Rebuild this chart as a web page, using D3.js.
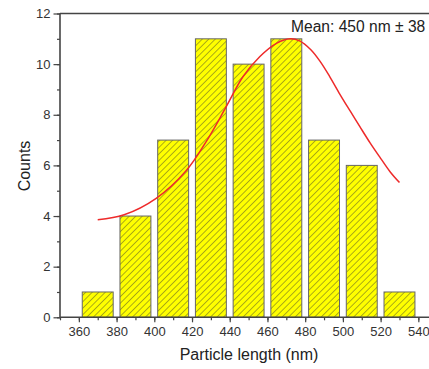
<!DOCTYPE html>
<html>
<head>
<meta charset="utf-8">
<script src="https://cdn.jsdelivr.net/npm/d3@7/dist/d3.min.js"></script>
<style>
html,body{margin:0;padding:0;background:#fff;}
svg{display:block;font-family:Arial,"Liberation Sans",sans-serif;}
</style>
</head>
<body>
<svg id="chart" width="429" height="369"></svg>
<script>
// Histogram bins (start of bin, nm) and counts
const binStarts = [360, 380, 400, 420, 440, 460, 480, 500, 520];
const counts    = [1, 4, 7, 11, 10, 11, 7, 6, 1];
const binWidth = 20;
// Fitted curve
const curveX = [370, 384, 401, 417, 428, 438, 447, 456, 465, 472, 477, 483, 488, 493, 498.5, 504, 509, 514.5, 520, 525, 530];
const curveY = [3.85, 4.05, 4.7, 5.8, 7.0, 8.3, 9.5, 10.3, 10.83, 11.0, 10.92, 10.57, 10.1, 9.51, 8.8, 8.13, 7.53, 6.88, 6.28, 5.75, 5.32];
const xTicks = [360, 380, 400, 420, 440, 460, 480, 500, 520, 540];
const yTicks = [0, 2, 4, 6, 8, 10, 12];
const annotation = "Mean: 450 nm \u00b1 38";

const svg = d3.select("#chart");
const mLeft = 60, mTop = 13.5, mBottom = 317.3;
const x = d3.scaleLinear().domain([350, 550]).range([mLeft, mLeft + 200 * 1.886]);
const y = d3.scaleLinear().domain([0, 12]).range([mBottom, mTop]);

// hatch pattern
const defs = svg.append("defs");
const pat = defs.append("pattern").attr("id", "hatch").attr("patternUnits", "userSpaceOnUse")
  .attr("width", 4.6).attr("height", 4.6).attr("patternTransform", "rotate(45)");
pat.append("rect").attr("width", 4.6).attr("height", 4.6).attr("fill", "#ffff00");
pat.append("line").attr("x1", 0).attr("y1", 0).attr("x2", 0).attr("y2", 4.6)
  .attr("stroke", "#4a4a2a").attr("stroke-width", 0.9);

// bars
const pad = 1.8;
svg.append("g").selectAll("rect").data(binStarts).join("rect")
  .attr("x", (d) => x(d + pad))
  .attr("width", (d) => x(d + binWidth - pad) - x(d + pad))
  .attr("y", (d, i) => y(counts[i]))
  .attr("height", (d, i) => y(0) - y(counts[i]))
  .attr("fill", "url(#hatch)")
  .attr("stroke", "#666")
  .attr("stroke-width", 1);

// curve
const line = d3.line().x((d) => x(d[0])).y((d) => y(d[1])).curve(d3.curveCatmullRom.alpha(0.5));
svg.append("path").datum(curveX.map((v, i) => [v, curveY[i]]))
  .attr("d", line).attr("fill", "none").attr("stroke", "#ee2a2a").attr("stroke-width", 1.5);

// axes
const axisColor = "#444";
const xMinor = d3.range(350, 551, 10);
const yMinor = d3.range(0, 12.01, 1);
const gx = svg.append("g").attr("transform", `translate(0,${mBottom})`);
gx.call(d3.axisBottom(x).tickValues(xMinor).tickSize(3).tickFormat(""));
gx.call((g) => g.select(".domain").remove());
const gx2 = svg.append("g").attr("transform", `translate(0,${mBottom})`)
  .call(d3.axisBottom(x).tickValues(xTicks).tickSize(5).tickPadding(4).tickFormat(d3.format("d")));
gx2.select(".domain").remove();
const gy = svg.append("g").attr("transform", `translate(${mLeft},0)`);
gy.call(d3.axisLeft(y).tickValues(yMinor).tickSize(3).tickFormat(""));
gy.call((g) => g.select(".domain").remove());
const gy2 = svg.append("g").attr("transform", `translate(${mLeft},0)`)
  .call(d3.axisLeft(y).tickValues(yTicks).tickSize(6.5).tickPadding(3).tickFormat(d3.format("d")));
gy2.select(".domain").remove();
svg.selectAll(".tick line").attr("stroke", axisColor).attr("stroke-width", 1.2);
svg.selectAll(".tick text").attr("fill", "#333").style("font-size", "13px");

// spines
svg.append("line").attr("x1", mLeft).attr("x2", mLeft).attr("y1", mTop).attr("y2", mBottom)
  .attr("stroke", axisColor).attr("stroke-width", 1.6);
svg.append("line").attr("x1", mLeft).attr("x2", 440).attr("y1", mBottom).attr("y2", mBottom)
  .attr("stroke", axisColor).attr("stroke-width", 1.6);
svg.append("line").attr("x1", mLeft).attr("x2", 440).attr("y1", mTop).attr("y2", mTop)
  .attr("stroke", axisColor).attr("stroke-width", 1.6);

// titles
svg.append("text").attr("x", 249).attr("y", 360).attr("text-anchor", "middle")
  .style("font-size", "16px").attr("fill", "#222").text("Particle length (nm)");
svg.append("text").attr("transform", "translate(30,166) rotate(-90)").attr("text-anchor", "middle")
  .style("font-size", "16px").attr("fill", "#222").text("Counts");
svg.append("text").attr("x", 291).attr("y", 32)
  .style("font-size", "15.6px").attr("fill", "#222").text(annotation);
</script>
</body>
</html>
